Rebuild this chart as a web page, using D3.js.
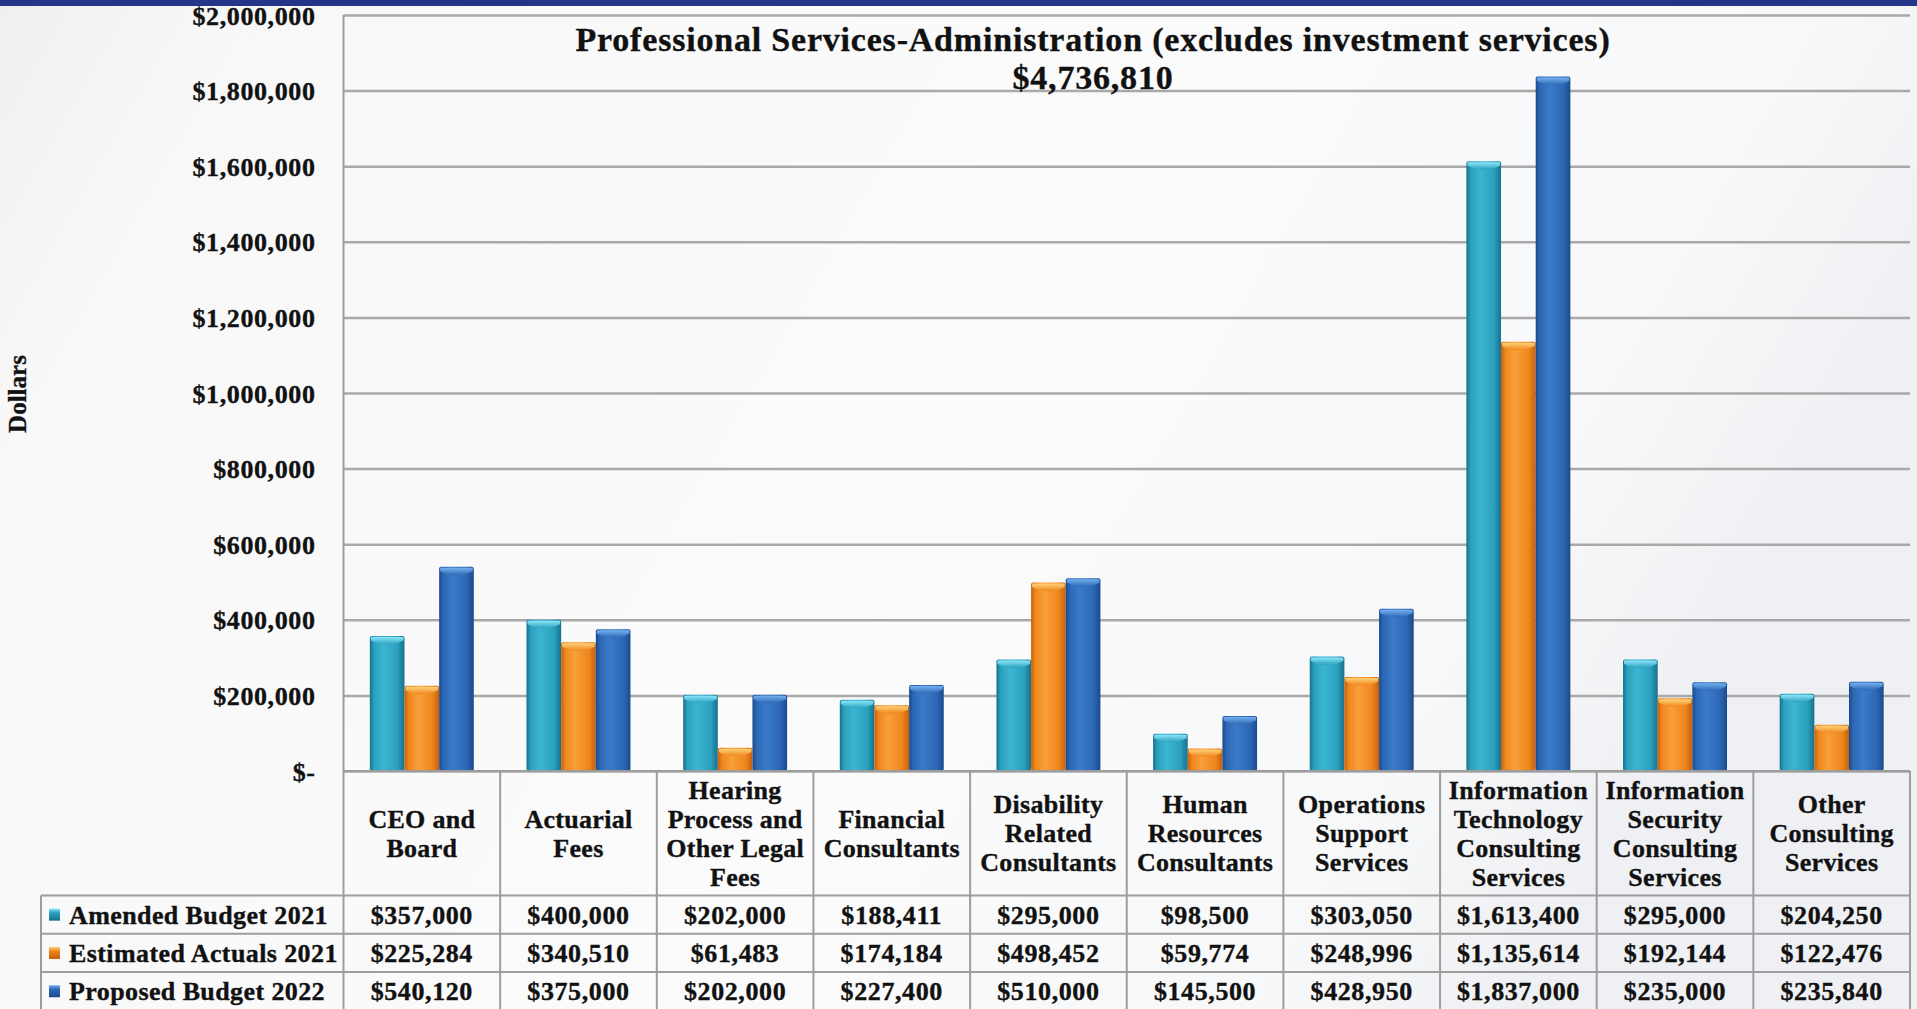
<!DOCTYPE html>
<html>
<head>
<meta charset="utf-8">
<script src="https://cdn.jsdelivr.net/npm/d3@7"></script>
<style>
  html, body { margin: 0; padding: 0; overflow: hidden; background: #f6f7f8; }
  svg text { font-family: "Liberation Serif", "Times New Roman", serif; font-weight: bold; fill: #111; stroke: #111; stroke-width: 0.35px; }
</style>
</head>
<body>
<svg id="chart" width="1917" height="1009"></svg>
<script>
// Category labels, with the line breaks used in the table header
const categories = [
  "CEO and\nBoard",
  "Actuarial\nFees",
  "Hearing\nProcess and\nOther Legal\nFees",
  "Financial\nConsultants",
  "Disability\nRelated\nConsultants",
  "Human\nResources\nConsultants",
  "Operations\nSupport\nServices",
  "Information\nTechnology\nConsulting\nServices",
  "Information\nSecurity\nConsulting\nServices",
  "Other\nConsulting\nServices"
];
const seriesNames = ["Amended Budget 2021", "Estimated Actuals 2021", "Proposed Budget 2022"];
const amended   = [357000, 400000, 202000, 188411, 295000,  98500, 303050, 1613400, 295000, 204250];
const estimated = [225284, 340510,  61483, 174184, 498452,  59774, 248996, 1135614, 192144, 122476];
const proposed  = [540120, 375000, 202000, 227400, 510000, 145500, 428950, 1837000, 235000, 235840];
const yTicks = [0, 200000, 400000, 600000, 800000, 1000000, 1200000, 1400000, 1600000, 1800000, 2000000];
const titleText = "Professional Services-Administration (excludes investment services)";
const totalText = "$4,736,810";
const yAxisTitle = "Dollars";

const seriesValues = [amended, estimated, proposed];

// bar colouring: edge, body, highlight, cap
const palette = [
  { edge: "#17708a", body: "#2aa0bd", light: "#3cb6d0", cap: "#8be6fa" },
  { edge: "#c4600c", body: "#ef861c", light: "#f9a03a", cap: "#ffd27a" },
  { edge: "#1b4a8c", body: "#2c67b4", light: "#3a7bc8", cap: "#74b0f0" }
];

const svg = d3.select("#chart");
const W = 1917, H = 1009;

const plotLeft = 343.5, plotRight = 1910;
const yBase = 771, yTop = 15;
const headerBottom = 895.5;
const rowH = 38.3;
const tableLeft = 41;
const tableBottom = headerBottom + rowH * 3;
const fontSize = 26;
const spacing = "0.6px";

const defs = svg.append("defs");

// soft slide background
const bg = defs.append("linearGradient").attr("id", "bg").attr("x1", 0).attr("x2", 1).attr("y1", 0).attr("y2", 0.3);
bg.append("stop").attr("offset", 0).attr("stop-color", "#efeff0");
bg.append("stop").attr("offset", 0.12).attr("stop-color", "#f8f8f9");
bg.append("stop").attr("offset", 0.6).attr("stop-color", "#fbfbfc");
bg.append("stop").attr("offset", 0.88).attr("stop-color", "#f7f8f9");
bg.append("stop").attr("offset", 1).attr("stop-color", "#eef0f3");
svg.append("rect").attr("width", W).attr("height", H).attr("fill", "url(#bg)");

// navy strip along the top
svg.append("rect").attr("x", 0).attr("y", 0).attr("width", W).attr("height", 6).attr("fill", "#23368a");

palette.forEach((p, i) => {
  const g = defs.append("linearGradient").attr("id", "body" + i).attr("x1", 0).attr("x2", 1).attr("y1", 0).attr("y2", 0);
  g.append("stop").attr("offset", 0).attr("stop-color", p.edge);
  g.append("stop").attr("offset", 0.12).attr("stop-color", p.body);
  g.append("stop").attr("offset", 0.4).attr("stop-color", p.light);
  g.append("stop").attr("offset", 0.8).attr("stop-color", p.body);
  g.append("stop").attr("offset", 1).attr("stop-color", p.edge);
  const c = defs.append("linearGradient").attr("id", "cap" + i).attr("x1", 0).attr("x2", 0).attr("y1", 0).attr("y2", 1);
  c.append("stop").attr("offset", 0).attr("stop-color", p.cap);
  c.append("stop").attr("offset", 1).attr("stop-color", p.body);
  const k = defs.append("linearGradient").attr("id", "key" + i).attr("x1", 0).attr("x2", 0).attr("y1", 0).attr("y2", 1);
  k.append("stop").attr("offset", 0).attr("stop-color", p.cap);
  k.append("stop").attr("offset", 0.35).attr("stop-color", p.body);
  k.append("stop").attr("offset", 1).attr("stop-color", p.edge);
});

// scales
const x0 = d3.scaleBand().domain(d3.range(categories.length)).range([plotLeft, plotRight]).padding(0);
const x1 = d3.scaleBand().domain(d3.range(seriesNames.length)).range([0, x0.bandwidth()]).paddingInner(0).paddingOuter(0.76);
const y = d3.scaleLinear().domain([0, 2000000]).range([yBase, yTop]);

const fmt = d3.format("$,");
const tickFmt = v => v === 0 ? "$-" : fmt(v);

// gridlines + tick labels
const yAxis = d3.axisLeft(y).tickValues(yTicks).tickFormat(tickFmt).tickSize(-(plotRight - plotLeft)).tickPadding(28);
const ax = svg.append("g").attr("transform", `translate(${plotLeft},0)`).call(yAxis);
ax.select(".domain").remove();
ax.selectAll(".tick line").attr("stroke", "#a9a9a9").attr("stroke-width", 2.5);
ax.selectAll(".tick text")
  .style("font-size", fontSize + "px").style("letter-spacing", spacing)
  .attr("fill", "#111").attr("dy", "0.35em");

// y axis title
svg.append("text")
  .attr("transform", `translate(26,${394}) rotate(-90)`)
  .attr("text-anchor", "middle")
  .style("font-size", "25px")
  .text(yAxisTitle);

// chart title
svg.append("text").attr("x", 1093).attr("y", 51).attr("text-anchor", "middle")
  .style("font-size", "34px").style("letter-spacing", "0.8px").text(titleText);
svg.append("text").attr("x", 1093).attr("y", 89).attr("text-anchor", "middle")
  .style("font-size", "34px").style("letter-spacing", "0.8px").text(totalText);

// bars
const groups = svg.append("g").selectAll("g")
  .data(categories.map((c, ci) => ({ ci, vals: seriesValues.map(s => s[ci]) })))
  .join("g")
  .attr("transform", d => `translate(${x0(d.ci)},0)`);

groups.each(function (d) {
  const g = d3.select(this);
  d.vals.forEach((v, si) => {
    const bx = x1(si), bw = x1.bandwidth();
    const top = y(v);
    const h = yBase - top;
    g.append("rect")
      .attr("x", bx).attr("y", top).attr("width", bw).attr("height", h)
      .attr("rx", 2).attr("fill", `url(#body${si})`);
    const capH = Math.min(10, h);
    g.append("path")
      .attr("d", `M${bx + 1},${top + 1} L${bx + bw - 1},${top + 1} L${bx + bw - 1},${top + capH * 0.45} Q${bx + bw / 2},${top + capH * 1.25} ${bx + 1},${top + capH * 0.45} Z`)
      .attr("fill", `url(#cap${si})`);
  });
});

// table grid
const grid = svg.append("g").attr("stroke", "#9d9d9d").attr("stroke-width", 2);
// left axis line
grid.append("line").attr("x1", plotLeft).attr("x2", plotLeft).attr("y1", yTop).attr("y2", tableBottom);
// baseline
grid.append("line").attr("x1", plotLeft).attr("x2", plotRight).attr("y1", yBase).attr("y2", yBase);
// category column dividers
d3.range(1, categories.length + 1).forEach(i => {
  const xx = i === categories.length ? plotRight : x0(i);
  grid.append("line").attr("x1", xx).attr("x2", xx).attr("y1", yBase).attr("y2", tableBottom);
});
// row separators
[0, 1, 2, 3].forEach(r => {
  const yy = headerBottom + r * rowH;
  grid.append("line").attr("x1", tableLeft).attr("x2", plotRight).attr("y1", yy).attr("y2", yy);
});
grid.append("line").attr("x1", tableLeft).attr("x2", tableLeft).attr("y1", headerBottom).attr("y2", tableBottom);

// category header labels
const headerMid = 833;
const lineH = 29;
categories.forEach((c, ci) => {
  const lines = c.split("\n");
  const t = svg.append("text").attr("text-anchor", "middle")
    .style("font-size", fontSize + "px").style("letter-spacing", "0.3px");
  lines.forEach((ln, li) => {
    t.append("tspan")
      .attr("x", x0(ci) + x0.bandwidth() / 2)
      .attr("y", headerMid + 9 + (li - (lines.length - 1) / 2) * lineH)
      .text(ln);
  });
});

// data rows with legend keys
seriesNames.forEach((name, si) => {
  const rowTop = headerBottom + si * rowH;
  const cy = rowTop + rowH / 2;
  svg.append("rect").attr("x", 49).attr("y", cy - 6).attr("width", 11).attr("height", 12).attr("fill", `url(#key${si})`);
  svg.append("text").attr("x", 69).attr("y", cy + 9)
    .style("font-size", fontSize + "px").style("letter-spacing", "0.4px").text(name);
  seriesValues[si].forEach((v, ci) => {
    svg.append("text")
      .attr("x", x0(ci) + x0.bandwidth() / 2)
      .attr("y", cy + 9)
      .attr("text-anchor", "middle")
      .style("font-size", fontSize + "px").style("letter-spacing", spacing)
      .text(fmt(v));
  });
});
</script>
</body>
</html>
